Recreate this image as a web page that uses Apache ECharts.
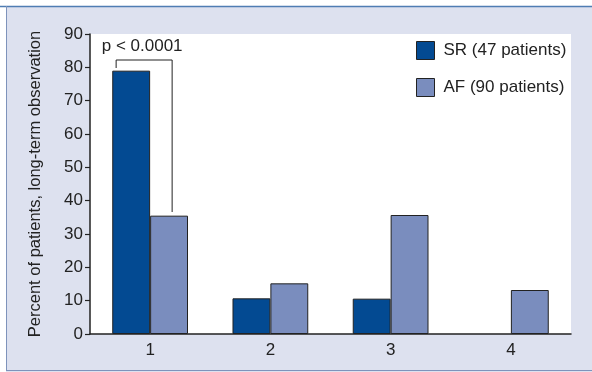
<!DOCTYPE html>
<html>
<head>
<meta charset="utf-8">
<script src="https://cdn.jsdelivr.net/npm/echarts@6/dist/echarts.min.js"></script>
<style>
html,body{margin:0;padding:0;background:#ffffff;}
#c{width:592px;height:372px;}
</style>
</head>
<body>
<div id="c"></div>
<script>
var categories = ['1', '2', '3', '4'];
var srValues = [79, 10.7, 10.6, 0];
var afValues = [35.5, 15.2, 35.7, 13.2];
var seriesNames = ['SR (47 patients)', 'AF (90 patients)'];
var yTicks = [0, 10, 20, 30, 40, 50, 60, 70, 80, 90];
var pText = 'p < 0.0001';
var bracketTop = 82.2;
var bracketLeftEnd = 79.8;
var bracketRightEnd = 36.6;
var pTextValue = 86.3;

var FONT = '"Liberation Sans", Arial, sans-serif';
var chart = echarts.init(document.getElementById('c'), null, {renderer: 'canvas'});

function toData(arr) {
  return arr.map(function (v) {
    return v === 0 ? {value: v, itemStyle: {borderWidth: 0}} : v;
  });
}

var option = {
  animation: false,
  backgroundColor: '#dde1ef',
  grid: {
    left: 90, right: 21, top: 34, bottom: 38,
    show: true, backgroundColor: '#ffffff', borderWidth: 0
  },
  legend: {
    orient: 'vertical',
    left: 416, top: 41, padding: 0,
    icon: 'rect',
    itemWidth: 18, itemHeight: 18, itemGap: 18,
    textStyle: {fontFamily: FONT, fontSize: 17, color: '#222222', padding: [0, 0, 0, 4]},
    itemStyle: {borderColor: '#222222', borderWidth: 1},
    data: seriesNames
  },
  xAxis: {
    type: 'category',
    data: categories,
    axisLine: {lineStyle: {color: '#222222', width: 1.5}},
    axisTick: {show: false},
    axisLabel: {fontFamily: FONT, fontSize: 17, color: '#222222', margin: 8}
  },
  yAxis: {
    type: 'value',
    min: 0, max: 90, interval: 10,
    name: 'Percent of patients, long-term observation',
    nameLocation: 'middle',
    nameGap: 46,
    nameTextStyle: {fontFamily: FONT, fontSize: 16.5, color: '#222222'},
    axisLine: {show: true, lineStyle: {color: '#222222', width: 1.5}},
    axisTick: {show: true, length: 5, lineStyle: {color: '#222222', width: 1.2}},
    splitLine: {show: false},
    axisLabel: {fontFamily: FONT, fontSize: 17, color: '#222222', margin: 7,
      formatter: function (v) { return yTicks.indexOf(v) >= 0 ? String(v) : ''; }}
  },
  series: [
    {
      name: seriesNames[0], type: 'bar', data: toData(srValues),
      barGap: '0%', barCategoryGap: '37%',
      itemStyle: {color: '#034a92', borderColor: '#222222', borderWidth: 1}
    },
    {
      name: seriesNames[1], type: 'bar', data: toData(afValues),
      barGap: '0%', barCategoryGap: '37%',
      itemStyle: {color: '#7a8dbe', borderColor: '#222222', borderWidth: 1}
    }
  ]
};
chart.setOption(option);

function drawAnnotations() {
  var c0 = chart.convertToPixel({xAxisIndex: 0}, categories[0]);
  var yTop = chart.convertToPixel({yAxisIndex: 0}, bracketTop);
  var yL = chart.convertToPixel({yAxisIndex: 0}, bracketLeftEnd);
  var yR = chart.convertToPixel({yAxisIndex: 0}, bracketRightEnd);
  var yP = chart.convertToPixel({yAxisIndex: 0}, pTextValue);
  var xL = c0 - 34;
  var xR = c0 + 22;
  chart.setOption({
    graphic: [
      {type: 'line', z: 0, shape: {x1: 0, y1: 6.5, x2: 592, y2: 6.5}, style: {stroke: '#4f7db3', lineWidth: 1.5}},
      {type: 'line', z: 0, shape: {x1: 6.5, y1: 6, x2: 6.5, y2: 371}, style: {stroke: '#7e93bb', lineWidth: 1}},
      {type: 'line', z: 0, shape: {x1: 6, y1: 370.5, x2: 592, y2: 370.5}, style: {stroke: '#7e93bb', lineWidth: 1}},
      {type: 'rect', z: -1, shape: {x: 0, y: 0, width: 592, height: 6}, style: {fill: '#ffffff'}},
      {type: 'rect', z: -1, shape: {x: 0, y: 0, width: 6, height: 372}, style: {fill: '#ffffff'}},
      {type: 'polyline', z: 10, shape: {points: [[xL, yL], [xL, yTop], [xR, yTop], [xR, yR]]},
        style: {stroke: '#222222', lineWidth: 1, fill: null}},
      {type: 'text', z: 10, x: (xL + xR) / 2 - 2, y: yP,
        style: {text: pText, font: '17px ' + FONT, fill: '#222222', textAlign: 'center', textVerticalAlign: 'middle'}}
    ]
  });
}
drawAnnotations();
</script>
</body>
</html>
